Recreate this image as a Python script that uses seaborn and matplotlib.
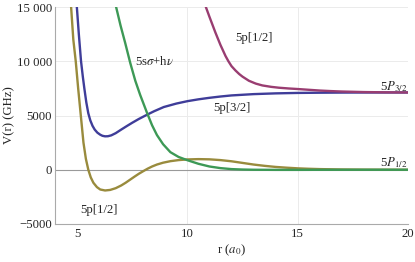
import numpy as np
import pandas as pd
import seaborn as sns
import matplotlib.pyplot as plt

# curve samples, r in a0, V in GHz
r_p12_low = [4.60, 4.73, 4.83, 4.94, 5.05, 5.17, 5.29, 5.40, 5.51, 5.62, 5.74, 5.90, 6.05, 6.27,
             6.50, 6.75, 7.00, 7.20, 7.40, 7.60, 7.80, 8.00, 8.20, 8.40, 8.62, 8.90, 9.23, 9.60,
             10.0, 10.5, 11.0, 11.5, 12.0, 12.5, 13.0, 13.5, 14.0, 14.5, 15.0, 15.5, 16.0, 17.0,
             18.0, 19.0, 20.0]
v_p12_low = [18000, 15000, 12000, 10000, 7500, 5000, 2500, 1000, 0, -700, -1200, -1600, -1820, -1910,
             -1860, -1700, -1450, -1200, -920, -640, -370, -130, 100, 300, 480, 650, 790, 890,
             950, 980, 960, 890, 780, 630, 480, 360, 260, 190, 130, 90, 60, 25,
             10, 4, 0]

r_p32 = [4.90, 4.99, 5.08, 5.18, 5.26, 5.33, 5.42, 5.51, 5.60, 5.70, 5.80, 5.92, 6.05, 6.15,
         6.27, 6.40, 6.55, 6.75, 7.00, 7.25, 7.50, 7.80, 8.17, 8.50, 8.93, 9.50, 10.0, 10.5,
         11.0, 11.5, 12.0, 13.0, 14.0, 15.0, 16.0, 17.0, 18.0, 20.0]
v_p32 = [18000, 15000, 12500, 10000, 8600, 7500, 6200, 5200, 4550, 4050, 3700, 3420, 3230, 3130,
         3080, 3090, 3170, 3370, 3700, 4020, 4330, 4680, 5070, 5400, 5780, 6100, 6320, 6490,
         6630, 6750, 6850, 6970, 7040, 7080, 7100, 7112, 7118, 7123]

r_p12_up = [10.70, 10.82, 11.0, 11.27, 11.5, 11.73, 11.86, 12.0, 12.18, 12.35, 12.5, 12.79, 13.1,
            13.4, 13.8, 14.15, 14.6, 15.0, 15.5, 16.0, 16.5, 17.0, 18.0, 19.0, 20.0]
v_p12_up = [16000, 15100, 14100, 12650, 11500, 10480, 10000, 9550, 9150, 8820, 8580, 8200, 7940,
            7770, 7640, 7560, 7490, 7440, 7370, 7300, 7250, 7210, 7160, 7135, 7123]

r_s_hv = [6.68, 6.77, 6.97, 7.18, 7.41, 7.64, 7.86, 8.17, 8.40, 8.62, 8.90, 9.23, 9.60, 10.0,
          10.5, 11.0, 11.5, 12.0, 12.5, 13.0, 14.0, 15.0, 16.0, 18.0, 20.0]
v_s_hv = [16000, 15000, 13300, 11700, 9850, 8200, 6900, 5250, 4100, 3200, 2350, 1620, 1180, 880,
          550, 300, 150, 60, 20, 0, -10, -10, -5, 0, 0]

y_ticks = [-5000, 0, 5000, 10000, 15000]
y_tick_labels = ["\u22125000", "0", "5000", "10 000", "15 000"]
x_ticks = [5, 10, 15, 20]

c_blue = "#3f3d99"
c_purple = "#993d71"
c_gold = "#998b3d"
c_green = "#3d9956"

sns.set_style("white")
plt.rcParams['font.family'] = ['Liberation Serif', 'DejaVu Serif']
plt.rcParams['mathtext.fontset'] = 'stix'

fig = plt.figure(figsize=(4.15, 2.62), dpi=100)
ax = fig.add_axes([55 / 415, 38 / 262, 353 / 415, 217 / 262])

# grid
for g in [5000, 10000, 15000]:
    ax.axhline(g, color="#ebebeb", lw=0.7, zorder=0)
for g in [10, 15]:
    ax.axvline(g, color="#ebebeb", lw=0.7, zorder=0)
ax.axhline(0, color="#9a9a9a", lw=0.8, zorder=1)

lw = 1.7
sns.lineplot(x=r_p32, y=v_p32, color=c_blue, lw=lw, ax=ax, sort=False)
sns.lineplot(x=r_p12_up, y=v_p12_up, color=c_purple, lw=lw, ax=ax, sort=False)
sns.lineplot(x=r_p12_low, y=v_p12_low, color=c_gold, lw=lw, ax=ax, sort=False)
sns.lineplot(x=r_s_hv, y=v_s_hv, color=c_green, lw=lw, ax=ax, sort=False)

ax.set_xlim(4, 20)
ax.set_ylim(-5000, 15000)

fs = 9.2
ax.set_xticks(x_ticks)
ax.set_xticklabels([str(t) for t in x_ticks], fontsize=fs)
ax.set_xticks(np.arange(4, 21, 1), minor=True)
ax.set_yticks(y_ticks)
ax.set_yticklabels(y_tick_labels, fontsize=fs)
ax.set_yticks(np.arange(-5000, 15001, 1000), minor=True)
ax.tick_params(which="major", direction="in", length=4, width=0.6, color="#888888", pad=2)
ax.tick_params(which="minor", direction="in", length=2.2, width=0.5, color="#888888")
ax.tick_params(axis="x", pad=3)

for s in ["top", "right"]:
    ax.spines[s].set_visible(False)
for s in ["left", "bottom"]:
    ax.spines[s].set_color("#aaaaaa")
    ax.spines[s].set_linewidth(0.8)

ax.set_xlabel(r"r ($a_0$)", fontsize=fs, labelpad=2)
ax.set_ylabel("V(r) (GHz)", fontsize=fs, labelpad=1)

# curve labels
ax.text(6.0, -3700, "5p[1/2]", fontsize=fs, ha="center", va="center")
ax.text(7.64, 10000, r"5s$\sigma$+h$\nu$", fontsize=fs, ha="left", va="center")
ax.text(13.0, 12100, "5p[1/2]", fontsize=fs, ha="center", va="center")
ax.text(12.0, 5700, "5p[3/2]", fontsize=fs, ha="center", va="center")
ax.text(19.98, 7360, r"5$P_{3/2}$", fontsize=fs, ha="right", va="baseline")
ax.text(19.98, 300, r"5$P_{1/2}$", fontsize=fs, ha="right", va="baseline")

fig.savefig("out.png", dpi=100)
